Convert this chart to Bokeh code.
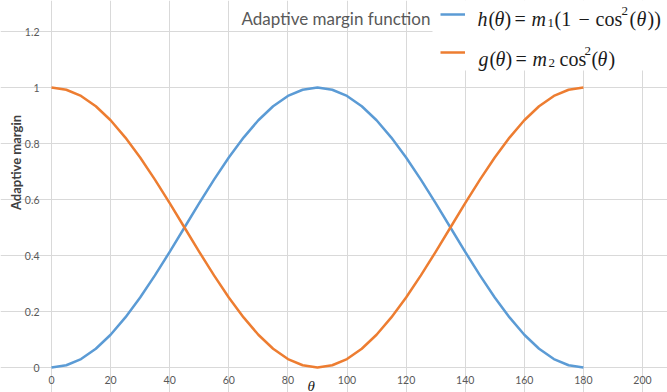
import math
from bokeh.plotting import figure
from bokeh.models import (Range1d, FixedTicker, Label, Legend, LegendItem, BoxAnnotation)
from bokeh.embed import file_html
from bokeh.resources import INLINE

# ---- data ----
theta = [0, 5, 10, 15, 20, 25, 30, 35, 40, 45, 50, 55, 60, 65, 70, 75, 80, 85, 90,
         95, 100, 105, 110, 115, 120, 125, 130, 135, 140, 145, 150, 155, 160, 165, 170, 175, 180]
h_vals = [0.000, 0.008, 0.030, 0.067, 0.117, 0.179, 0.250, 0.329, 0.413, 0.500, 0.587, 0.671,
          0.750, 0.821, 0.883, 0.933, 0.970, 0.992, 1.000, 0.992, 0.970, 0.933, 0.883, 0.821,
          0.750, 0.671, 0.587, 0.500, 0.413, 0.329, 0.250, 0.179, 0.117, 0.067, 0.030, 0.008, 0.000]
g_vals = [1.000, 0.992, 0.970, 0.933, 0.883, 0.821, 0.750, 0.671, 0.587, 0.500, 0.413, 0.329,
          0.250, 0.179, 0.117, 0.067, 0.030, 0.008, 0.000, 0.008, 0.030, 0.067, 0.117, 0.179,
          0.250, 0.329, 0.413, 0.500, 0.587, 0.671, 0.750, 0.821, 0.883, 0.933, 0.970, 0.992, 1.000]
x_ticks = [0, 20, 40, 60, 80, 100, 120, 140, 160, 180, 200]
y_ticks = [0, 0.2, 0.4, 0.6, 0.8, 1.0, 1.2]
y_tick_labels = ["0", "0.2", "0.4", "0.6", "0.8", "1", "1.2"]
x_min, x_max = 0, 200
y_min, y_max = 0, 1.2
title_text = "Adaptive margin function"
y_label_text = "Adaptive margin"
x_label_text = "θ"

# ---- layout (canvas pixels) ----
W, H = 667, 392
PL, PR, PT, PB = 51, 642, 31, 367   # plot-area edges in canvas px

# the frame covers the whole canvas; the ranges are widened so that the plot
# area lands on the pixels above
sx = (PR - PL) / (x_max - x_min)
sy = (PB - PT) / (y_max - y_min)
x_range = Range1d(x_min - PL / sx, x_max + (W - PR) / sx)
y_range = Range1d(y_min - (H - PB) / sy, y_max + PT / sy)

p = figure(width=W, height=H, output_backend="svg", toolbar_location=None,
           x_range=x_range, y_range=y_range, min_border=0)
p.outline_line_color = None
p.background_fill_color = "white"
p.border_fill_color = "white"

p.xaxis.fixed_location = y_min
p.yaxis.fixed_location = x_min
for ax in (p.xaxis[0], p.yaxis[0]):
    ax.axis_line_color = None
    ax.major_tick_line_color = None
    ax.minor_tick_line_color = None
    ax.major_tick_in = 0
    ax.major_tick_out = 0
    ax.major_label_text_font = "Lato"
    ax.major_label_text_font_size = "10.5px"
    ax.major_label_text_color = "#595959"

p.xaxis.ticker = FixedTicker(ticks=x_ticks)
p.yaxis.ticker = FixedTicker(ticks=y_ticks)
p.yaxis.major_label_overrides = {t: s for t, s in zip(y_ticks, y_tick_labels)}
p.xaxis.major_label_standoff = 8
p.yaxis.major_label_standoff = 12

p.xgrid.ticker = FixedTicker(ticks=x_ticks)
p.ygrid.ticker = FixedTicker(ticks=y_ticks)
p.xgrid.bounds = (y_min, y_max)
p.ygrid.bounds = (x_min, x_max)
p.grid.grid_line_color = "#d9d9d9"
p.grid.grid_line_width = 1

r_h = p.line(theta, h_vals, line_color="#5B9BD5", line_width=2.5, line_join="round")
r_g = p.line(theta, g_vals, line_color="#ED7D31", line_width=2.5, line_join="round")

# white area behind the legend (covers grid lines there)
p.add_layout(BoxAnnotation(left=432, left_units="screen",
                           bottom=H - 70, bottom_units="screen",
                           fill_color="white", fill_alpha=1.0, line_color=None))

legend = Legend(items=[LegendItem(label=" ", renderers=[r_h]),
                       LegendItem(label=" ", renderers=[r_g])],
                location=(440, H - 62), orientation="vertical",
                glyph_width=25, glyph_height=20, label_height=20, label_width=1,
                spacing=18, padding=0, margin=0, label_standoff=0,
                border_line_color=None, background_fill_alpha=0,
                label_text_font_size="1px")
p.add_layout(legend)


def lab(text, cx, cy, size, style="normal", font="Liberation Serif", color="#1a1a1a",
        align="left", baseline="alphabetic", angle=0.0):
    p.add_layout(Label(x=cx, y=H - cy, x_units="screen", y_units="screen",
                       text=text, text_font=font, text_font_size=f"{size}px",
                       text_font_style=style, text_color=color, text_align=align,
                       text_baseline=baseline, angle=angle))


# title and axis titles
lab(title_text, 241, 18, 17, font="Lato", color="#595959")
lab(y_label_text, 15, 162, 13, style="bold", font="Lato", color="#404040",
    align="center", baseline="middle", angle=math.pi / 2)
lab(x_label_text, 307, 385, 15, style="italic")

# legend formulas, h(θ) = m1(1 − cos²(θ))
B1 = 18
S = 20
for t, x, st, sz, dy in [("h", 477, "italic", S, 0), ("(", 488, "normal", S, 0),
                          ("θ", 494, "italic", S, 0), (")", 504, "normal", S, 0),
                          ("=", 514, "normal", S, 0), ("m", 531, "italic", S, 0),
                          ("1", 547, "normal", 13, 4), ("(1", 554, "normal", S, 0),
                          ("−", 578, "normal", S, 0), ("cos", 595, "normal", S, 0),
                          ("2", 621, "normal", 13, -8), ("(", 629, "normal", S, 0),
                          ("θ", 636, "italic", S, 0), ("))", 647, "normal", S, 0)]:
    lab(t, x, B1 + dy, sz, style=st)

# g(θ) = m2 cos²(θ)
B2 = 58
for t, x, st, sz, dy in [("g", 478, "italic", S, 0), ("(", 489, "normal", S, 0),
                          ("θ", 495, "italic", S, 0), (")", 505, "normal", S, 0),
                          ("=", 515, "normal", S, 0), ("m", 532, "italic", S, 0),
                          ("2", 548, "normal", 13, 4), ("cos", 559, "normal", S, 0),
                          ("2", 584, "normal", 13, -8), ("(", 591, "normal", S, 0),
                          ("θ", 597, "italic", S, 0), (")", 608, "normal", S, 0)]:
    lab(t, x, B2 + dy, sz, style=st)

open("out.html", "w").write(file_html(p, INLINE))
